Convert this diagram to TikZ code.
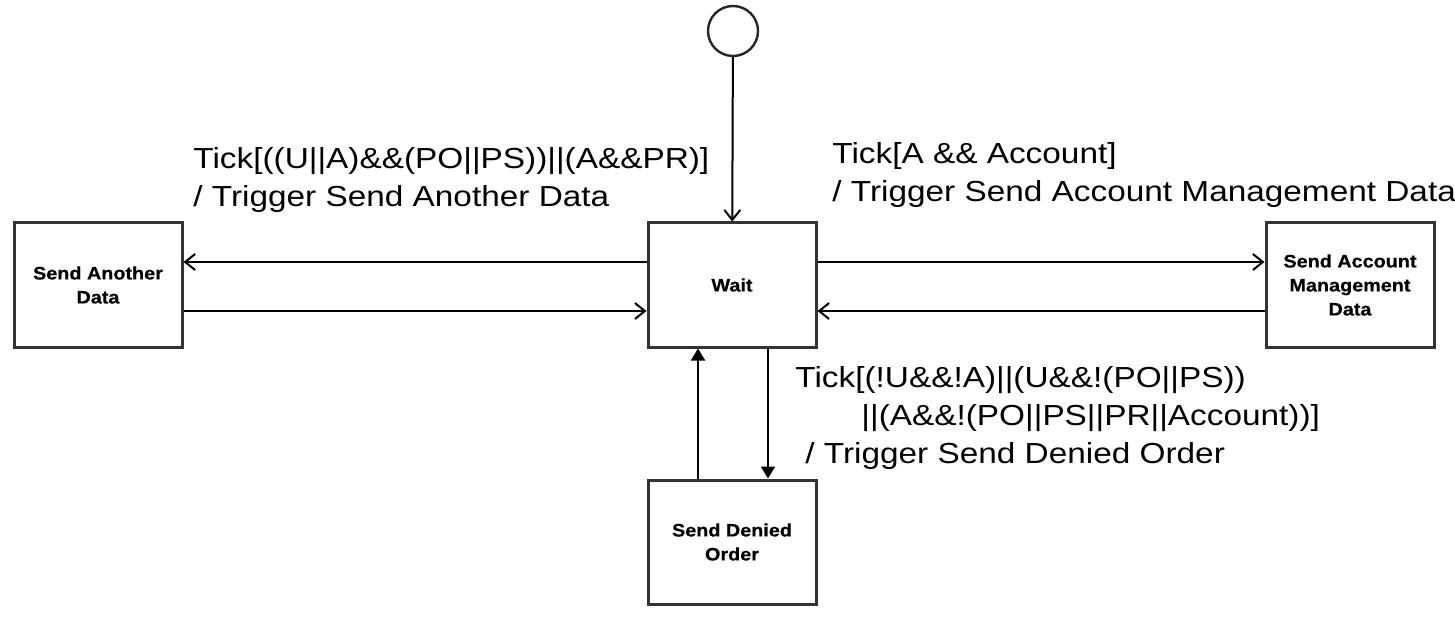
\documentclass[tikz,border=0pt]{standalone}
\usepackage{fontspec}
\setmainfont{Liberation Sans}
\newfontfamily\textoancho[FakeStretch=1.15]{Liberation Sans}
\newfontfamily\textocaja[FakeStretch=1.1,FakeBold=0.6]{Liberation Sans Bold}
\usetikzlibrary{arrows.meta}
\begin{document}
\begin{tikzpicture}[x=0.5pt,y=-0.5pt]
		
		% Estilos
		\tikzset{
			estado/.style={
				rectangle,
				draw=black!80,
				line width=1.5pt,
				minimum width=84pt,
				minimum height=62pt,
				align=center,
				font=\textocaja\fontsize{9}{12}\selectfont
			},
			inicio/.style={
				circle,
				draw=black!85,
				line width=1.2pt,
				minimum size=25pt,
				inner sep=0pt
			},
			trans/.style={
				line width=1pt,
				-{Straight Barb[length=5pt,width=8pt,line width=1pt]}
			},
			transv/.style={
				line width=1pt,
				-{Triangle[length=6pt,width=7pt]}
			},
			etiqueta/.style={
				anchor=west,
				inner sep=0pt,
				align=left,
				font=\textoancho\fontsize{14.5}{19}\selectfont
			}
		}
		
		\useasboundingbox (0,0) rectangle (1455,636);
		
		% Nodos
		\node[inicio] (I) at (733,31) {};
		\node[estado] (W) at (732,285) {Wait};
		\node[estado] (AD) at (98,285) {Send Another\\Data};
		\node[estado] (AM) at (1350,285) {Send Account\\Management\\Data};
		\node[estado] (DO) at (732,542) {Send Denied\\Order};
		
		% Transiciones
		\draw[trans] (I) -- (W);
		\draw[trans] ([yshift=11.5pt]W.west) -- ([yshift=11.5pt]AD.east);
		\draw[trans] ([yshift=-13pt]AD.east) -- ([yshift=-13pt]W.west);
		\draw[trans] ([yshift=11.5pt]W.east) -- ([yshift=11.5pt]AM.west);
		\draw[trans] ([yshift=-13pt]AM.west) -- ([yshift=-13pt]W.east);
		\draw[transv] ([xshift=18pt]W.south) -- ([xshift=18pt]DO.north);
		\draw[transv] ([xshift=-17pt]DO.north) -- ([xshift=-17pt]W.south);
		
		% Etiquetas
		\node[etiqueta] (LA) at (193,180) {Tick[((U||A)\&\&(PO||PS))||(A\&\&PR)]\\/ Trigger Send Another Data};
		\node[etiqueta] (LM) at (832,175) {Tick[A \&\& Account]\\/ Trigger Send Account Management Data};
		\node[etiqueta] (LD) at (795,418) {Tick[(!U\&\&!A)||(U\&\&!(PO||PS))\\\hspace*{33pt}||(A\&\&!(PO||PS||PR||Account))]\\\hspace*{5pt}/ Trigger Send Denied Order};
		
	\end{tikzpicture}
\end{document}
